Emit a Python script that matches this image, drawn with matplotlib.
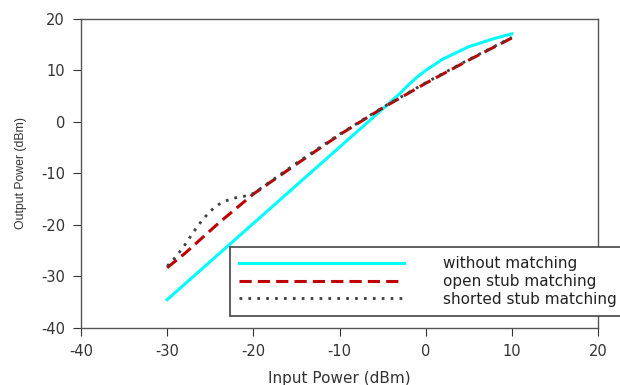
import matplotlib
matplotlib.use('Agg')
import matplotlib.pyplot as plt

plt.rcParams['font.family'] = ['DejaVu Sans']
plt.rcParams['axes.unicode_minus'] = False

# data
x_nomatch = [-30, -25, -20, -15, -10, -5, -3, -2, -1, 0, 2, 5, 8, 10]
y_nomatch = [-34.5, -27.1, -19.7, -12.3, -4.9, 2.5, 5.5, 7.2, 8.7, 10.0, 12.2, 14.6, 16.2, 17.1]

x_open = [-30, -28, -26, -24, -22, -20, -15, -10, -5, 0, 5, 10]
y_open = [-28.3, -25.6, -22.6, -19.6, -16.8, -14.0, -8.2, -2.5, 2.7, 7.5, 12.0, 16.3]

x_short = [-30, -29, -28, -27, -26, -25, -24, -23, -22, -21, -20, -15, -10, -5, 0, 5, 10]
y_short = [-28.0, -26.2, -24.0, -21.5, -19.2, -17.3, -16.0, -15.2, -14.7, -14.4, -13.9,
           -8.0, -2.4, 2.8, 7.6, 12.1, 16.4]

fig = plt.figure(figsize=(6.2, 3.85), dpi=100)
ax = fig.add_axes([0.1306, 0.148, 0.834, 0.803])

ax.plot(x_nomatch, y_nomatch, color='#00ffff', lw=2.2, label='without matching')
ax.plot(x_open, y_open, color='#c00000', lw=2.2, dashes=(4, 2), label='open stub matching')
ax.plot(x_short, y_short, color='#404040', lw=2.0, linestyle=(0, (1, 2.2)),
        label='shorted stub matching')

ax.set_xlim(-40, 20)
ax.set_ylim(-40, 20)
ax.set_xticks(range(-40, 21, 10))
ax.set_yticks(range(-40, 21, 10))
ax.tick_params(direction='out', length=6, pad=5.5, labelsize=10.5, colors='#333333')
for s in ax.spines.values():
    s.set_color('#555555')
    s.set_linewidth(1.0)

ax.set_xlabel('Input Power (dBm)', fontsize=11, color='#333333', labelpad=9)
ax.set_ylabel('Output Power (dBm)', fontsize=8.8, family='Liberation Sans',
              color='#333333', labelpad=10)

leg = ax.legend(loc='upper left', bbox_to_anchor=(0.288, 0.262), fontsize=11,
                handlelength=10.8, handletextpad=2.55, labelspacing=0.18,
                fancybox=False, framealpha=1, borderaxespad=0, borderpad=0.6)
leg.get_frame().set_edgecolor('#444444')
leg.get_frame().set_linewidth(1.2)
for t in leg.get_texts():
    t.set_color('#222222')

fig.savefig('out.png', dpi=100)
